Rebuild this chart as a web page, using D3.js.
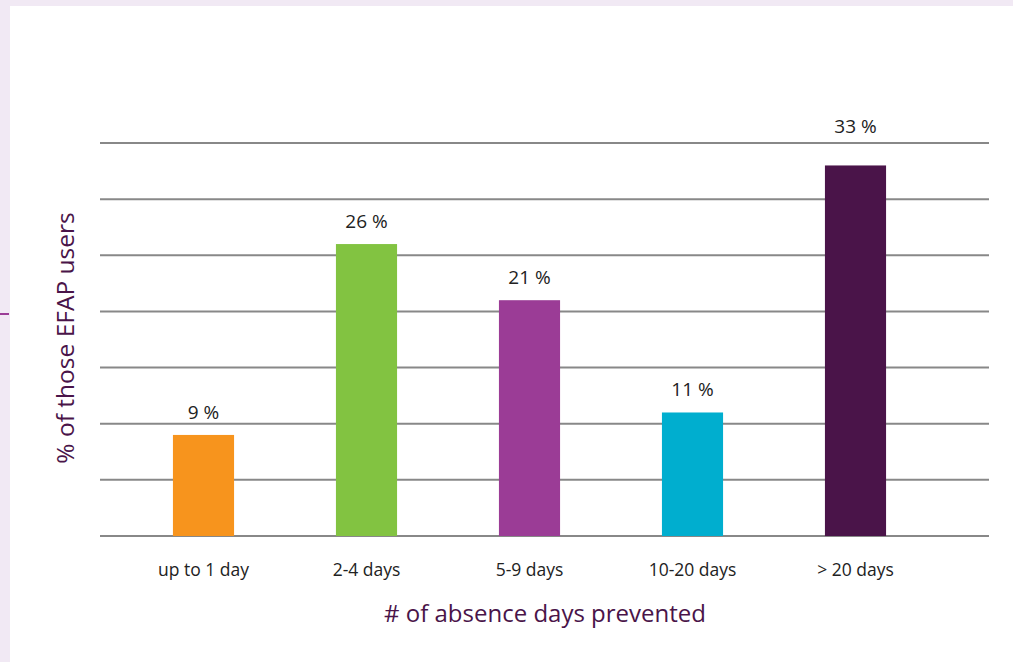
<!DOCTYPE html>
<html>
<head>
<script src='https://d3js.org/d3.v7.min.js'></script>
<style>
body {margin:0; background-color:#f1e9f4;}
svg {display:block;}
</style>
</head>
<body>
<svg width=1013 height=662></svg>
<script>
var categories = ['up to 1 day','2-4 days','5-9 days','10-20 days','> 20 days']
var values = [9,26,21,11,33]
var labels = ['9 %','26 %','21 %','11 %','33 %']
var colors = ['#f7941d','#82c341','#9b3c96','#00aecf','#4a1449']
var gridTicks = [0,5,10,15,20,25,30,35]

var svg = d3.select('svg')

// white panel
svg.append('rect')
   .attr('x',10).attr('y',6)
   .attr('width',1003).attr('height',656)
   .attr('fill','#ffffff')

// little purple marker on the left edge
svg.append('line')
   .attr('x1',0).attr('x2',9)
   .attr('y1',314).attr('y2',314)
   .attr('stroke','#9b3c96')
   .attr('stroke-width',2)

var x = d3.scaleBand().domain(categories).range([122,937])
var y = d3.scaleLinear().domain([0,35]).range([536,143])
var barW = x.bandwidth()*0.375

// grid lines
svg.append('g').selectAll('line')
   .data(gridTicks)
   .enter()
   .append('line')
     .attr('x1',100).attr('x2',989)
     .attr('y1',function(d) {return y(d);})
     .attr('y2',function(d) {return y(d);})
     .attr('stroke','#888')
     .attr('stroke-width',2)

// bars
svg.append('g').selectAll('rect')
   .data(values)
   .enter()
   .append('rect')
     .attr('x',function(d,i) {return x(categories[i])+x.bandwidth()/2-barW/2;})
     .attr('y',function(d) {return y(d);})
     .attr('width',barW)
     .attr('height',function(d) {return y(0)-y(d);})
     .attr('fill',function(d,i) {return colors[i];})

// value labels; pushed above the top grid line if they would cross it
function labelY(d) {
    var ly = y(d)-16
    if (ly-15 < y(35)) ly = y(35)-10
    return ly
}
svg.append('g').selectAll('text')
   .data(values)
   .enter()
   .append('text')
     .attr('text-anchor','middle')
     .attr('x',function(d,i) {return x(categories[i])+x.bandwidth()/2;})
     .attr('y',labelY)
     .attr('font-family','Open Sans, sans-serif')
     .attr('font-size',19)
     .attr('fill','#222')
     .text(function(d,i) {return labels[i];})

// x axis (labels only)
var xAxis = svg.append('g')
   .attr('transform','translate(0,536)')
   .call(d3.axisBottom(x).tickSize(0).tickPadding(28))
xAxis.select('.domain').remove()
xAxis.selectAll('text')
   .attr('font-family','Open Sans, sans-serif')
   .attr('font-size',17.5)
   .attr('fill','#222')

// axis titles
svg.append('text')
   .attr('text-anchor','middle')
   .attr('x',545).attr('y',622)
   .attr('font-family','Open Sans, sans-serif')
   .attr('font-size',24)
   .attr('fill','#4a1449')
   .text('# of absence days prevented')

svg.append('text')
   .attr('text-anchor','middle')
   .attr('transform','translate(74,338) rotate(-90)')
   .attr('font-family','Open Sans, sans-serif')
   .attr('font-size',24.5)
   .attr('fill','#4a1449')
   .text('% of those EFAP users')
</script>
</body>
</html>
